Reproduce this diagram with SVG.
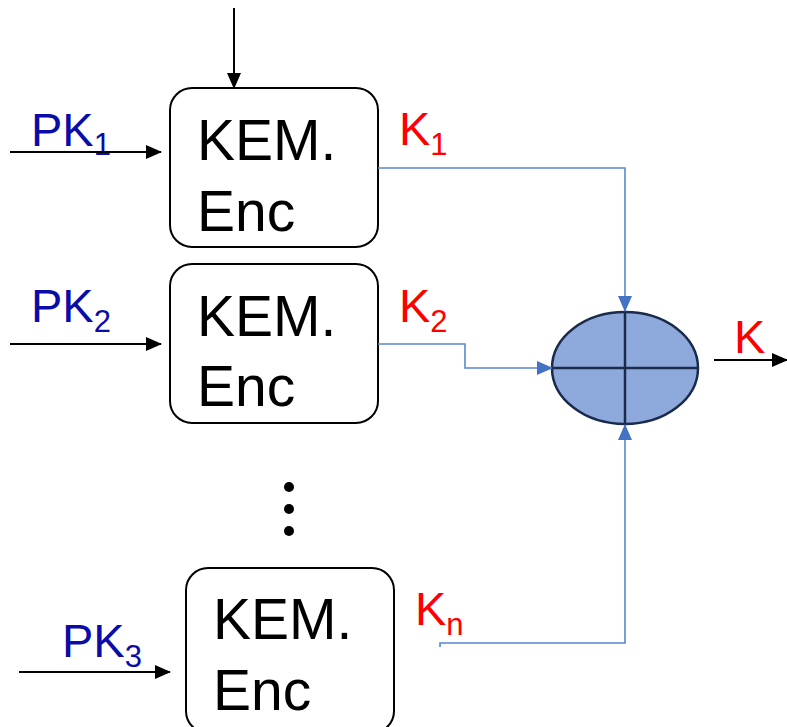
<svg xmlns="http://www.w3.org/2000/svg" width="787" height="727" viewBox="0 0 787 727">
<style>
.box{fill:#fff;stroke:#000;stroke-width:2}
.lbl{font-family:"Liberation Sans",Arial,sans-serif;font-size:57px;fill:#000}
.pk{font-family:"Liberation Sans",Arial,sans-serif;font-size:47px;fill:#0B0BA8}
.k{font-family:"Liberation Sans",Arial,sans-serif;font-size:47px;fill:#FF0000}
.sub{font-size:31px}
.blk{stroke:#000;stroke-width:2;fill:none}
.blu{stroke:#5B86CF;stroke-width:1.6;fill:none}
</style>
<defs>
<marker id="ab" markerWidth="16" markerHeight="14" refX="15" refY="7" orient="auto" markerUnits="userSpaceOnUse"><path d="M0,0 L16,7 L0,14 Z" fill="#000"/></marker>
<marker id="au" markerWidth="16" markerHeight="14" refX="15" refY="7" orient="auto" markerUnits="userSpaceOnUse"><path d="M0,0 L16,7 L0,14 Z" fill="#4472C4"/></marker>
</defs>
<g id="enc1">
<rect class="box" x="170" y="88" width="208" height="159" rx="22"/>
<text class="lbl" x="197" y="160">KEM.</text>
<text class="lbl" x="197" y="231">Enc</text>
</g>
<g id="enc2">
<rect class="box" x="170" y="264" width="208" height="159" rx="22"/>
<text class="lbl" x="197" y="336">KEM.</text>
<text class="lbl" x="197" y="406">Enc</text>
</g>
<g id="enc3">
<rect class="box" x="186" y="568" width="208" height="165" rx="22"/>
<text class="lbl" x="213" y="639">KEM.</text>
<text class="lbl" x="213" y="710">Enc</text>
</g>
<g id="dots">
<circle cx="289" cy="487" r="5"/>
<circle cx="289" cy="509" r="5"/>
<circle cx="289" cy="531" r="5"/>
</g>
<g id="combiner">
<ellipse cx="625" cy="368" rx="73" ry="56" fill="#8EA9DB" stroke="#1A2B4C" stroke-width="2.5"/>
<line x1="552" y1="368" x2="698" y2="368" stroke="#1A2B4C" stroke-width="2.5"/>
<line x1="625" y1="312" x2="625" y2="424" stroke="#1A2B4C" stroke-width="2.5"/>
</g>
<g id="labels">
<text class="pk" x="31" y="146">PK<tspan class="sub" dy="9">1</tspan></text>
<text class="pk" x="31" y="322">PK<tspan class="sub" dy="10">2</tspan></text>
<text class="pk" x="62" y="657">PK<tspan class="sub" dy="10">3</tspan></text>
<text class="k" x="399" y="145">K<tspan class="sub" dy="10">1</tspan></text>
<text class="k" x="399" y="322">K<tspan class="sub" dy="10">2</tspan></text>
<text class="k" x="415" y="625">K<tspan class="sub" dy="10">n</tspan></text>
<text class="k" x="734" y="353">K</text>
</g>
<g id="connectors">
<line class="blk" x1="234" y1="8" x2="234" y2="88" marker-end="url(#ab)"/>
<line class="blk" x1="10" y1="152" x2="161" y2="152" marker-end="url(#ab)"/>
<line class="blk" x1="10" y1="344" x2="161" y2="344" marker-end="url(#ab)"/>
<line class="blk" x1="19" y1="672" x2="170" y2="672" marker-end="url(#ab)"/>
<line class="blk" x1="714" y1="360" x2="787" y2="360" marker-end="url(#ab)"/>
<polyline class="blu" points="378,168 625,168 625,311" marker-end="url(#au)"/>
<polyline class="blu" points="378,344 465,344 465,368 552,368" marker-end="url(#au)"/>
<polyline class="blu" points="440,647 440,643 625,643 625,425" marker-end="url(#au)"/>
</g>
</svg>
